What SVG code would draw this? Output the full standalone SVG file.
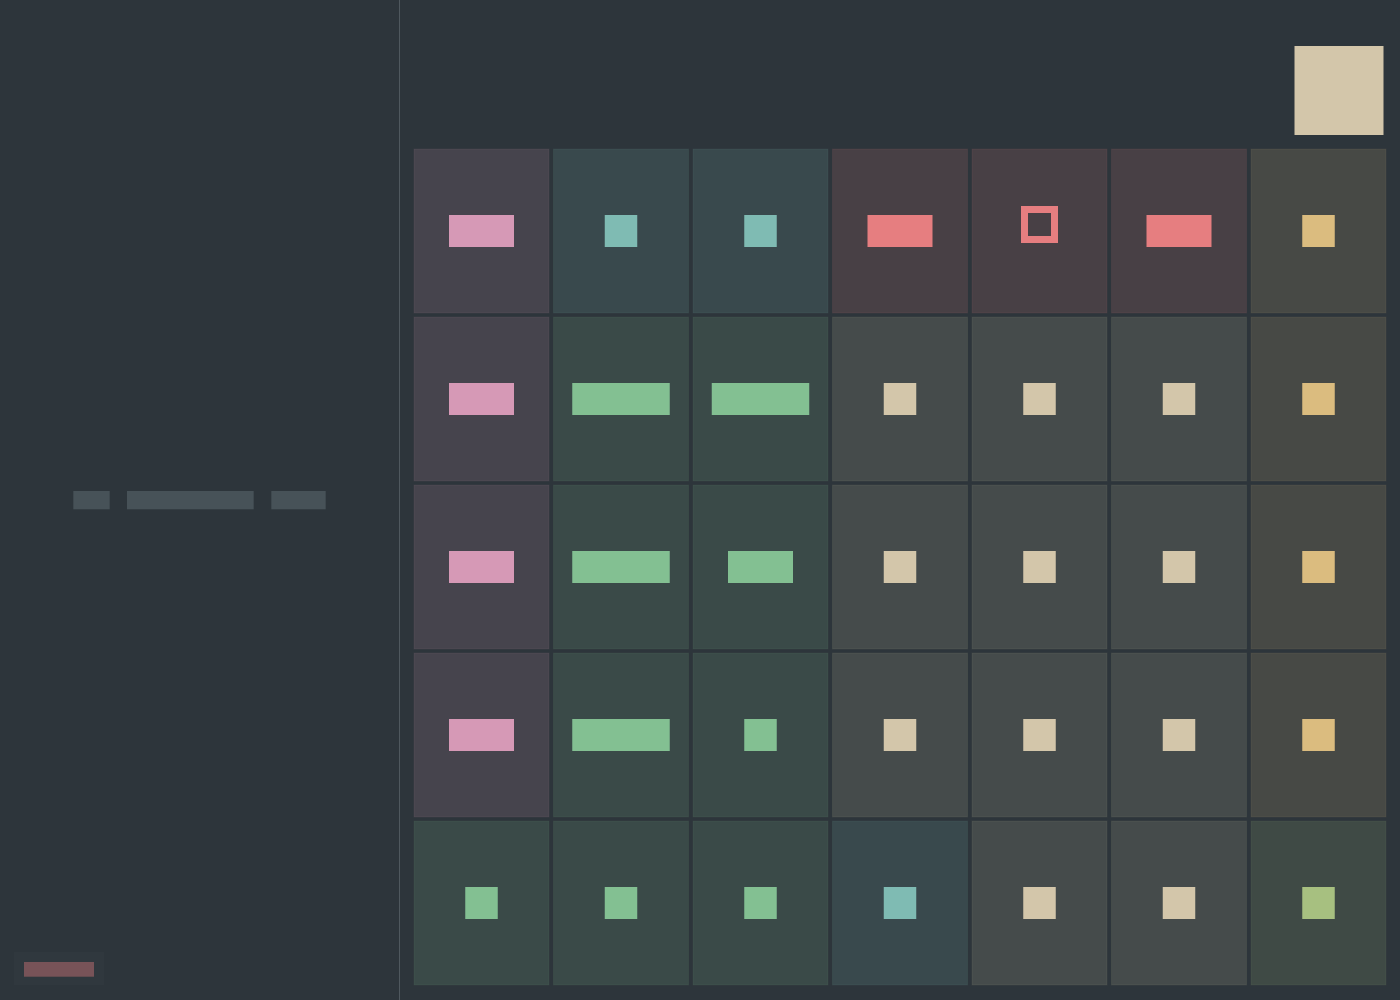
<svg xmlns="http://www.w3.org/2000/svg" width="1400" height="1000" viewBox="0 0 1400 1000">
<style>
.cell{stroke-width:1;stroke-opacity:0.08}
.c-pu{fill:#d699b6;fill-opacity:0.15;stroke:#d699b6}
.c-bl{fill:#7fbbb3;fill-opacity:0.15;stroke:#7fbbb3}
.c-aq{fill:#83c092;fill-opacity:0.15;stroke:#83c092}
.c-rd{fill:#e67e80;fill-opacity:0.15;stroke:#e67e80}
.c-fg{fill:#d3c6aa;fill-opacity:0.15;stroke:#d3c6aa}
.c-ye{fill:#dbbc7f;fill-opacity:0.15;stroke:#dbbc7f}
.c-gr{fill:#a7c080;fill-opacity:0.15;stroke:#a7c080}
.g-pu{fill:#d699b6}.g-bl{fill:#7fbbb3}.g-aq{fill:#83c092}.g-rd{fill:#e67e80}
.g-fg{fill:#d3c6aa}.g-ye{fill:#dbbc7f}.g-gr{fill:#a7c080}
.side{fill:#475258}
</style>
<rect x="0" y="0" width="1400" height="1000" fill="#2d353b"/>
<line x1="399.5" y1="0" x2="399.5" y2="1000" stroke="#4f585e" stroke-width="1"/>
<g id="sidebar">
  <rect class="side" x="73.3" y="491" width="36.4" height="18.3"/>
  <rect class="side" x="127" y="491" width="126.7" height="18.3"/>
  <rect class="side" x="271.3" y="491" width="54.4" height="18.3"/>
</g>
<g id="badge">
  <rect x="14" y="952" width="90" height="33" fill="#ffffff" fill-opacity="0.015"/>
  <rect x="24" y="962" width="70" height="14.7" fill="#e67e80" fill-opacity="0.4"/>
</g>
<rect id="swatch" x="1294.5" y="46" width="89" height="89" fill="#d3c6aa"/>
<g id="grid">
  <!-- row 1 -->
  <g id="r1c1"><rect class="cell c-pu" x="414" y="149" width="135" height="164"/><rect class="g-pu" x="449" y="215" width="65" height="32"/></g>
  <g id="r1c2"><rect class="cell c-bl" x="553.5" y="149" width="135" height="164"/><rect class="g-bl" x="604.75" y="215" width="32.5" height="32"/></g>
  <g id="r1c3"><rect class="cell c-bl" x="693" y="149" width="135" height="164"/><rect class="g-bl" x="744.25" y="215" width="32.5" height="32"/></g>
  <g id="r1c4"><rect class="cell c-rd" x="832.5" y="149" width="135" height="164"/><rect class="g-rd" x="867.5" y="215" width="65" height="32"/></g>
  <g id="r1c5"><rect class="cell c-rd" x="972" y="149" width="135" height="164"/><rect x="1024.5" y="209.5" width="30" height="30" fill="none" stroke="#e67e80" stroke-width="7"/></g>
  <g id="r1c6"><rect class="cell c-rd" x="1111.5" y="149" width="135" height="164"/><rect class="g-rd" x="1146.5" y="215" width="65" height="32"/></g>
  <g id="r1c7"><rect class="cell c-ye" x="1251" y="149" width="135" height="164"/><rect class="g-ye" x="1302.25" y="215" width="32.5" height="32"/></g>
  <!-- row 2 -->
  <g id="r2c1"><rect class="cell c-pu" x="414" y="317" width="135" height="164"/><rect class="g-pu" x="449" y="383" width="65" height="32"/></g>
  <g id="r2c2"><rect class="cell c-aq" x="553.5" y="317" width="135" height="164"/><rect class="g-aq" x="572.25" y="383" width="97.5" height="32"/></g>
  <g id="r2c3"><rect class="cell c-aq" x="693" y="317" width="135" height="164"/><rect class="g-aq" x="711.75" y="383" width="97.5" height="32"/></g>
  <g id="r2c4"><rect class="cell c-fg" x="832.5" y="317" width="135" height="164"/><rect class="g-fg" x="883.75" y="383" width="32.5" height="32"/></g>
  <g id="r2c5"><rect class="cell c-fg" x="972" y="317" width="135" height="164"/><rect class="g-fg" x="1023.25" y="383" width="32.5" height="32"/></g>
  <g id="r2c6"><rect class="cell c-fg" x="1111.5" y="317" width="135" height="164"/><rect class="g-fg" x="1162.75" y="383" width="32.5" height="32"/></g>
  <g id="r2c7"><rect class="cell c-ye" x="1251" y="317" width="135" height="164"/><rect class="g-ye" x="1302.25" y="383" width="32.5" height="32"/></g>
  <!-- row 3 -->
  <g id="r3c1"><rect class="cell c-pu" x="414" y="485" width="135" height="164"/><rect class="g-pu" x="449" y="551" width="65" height="32"/></g>
  <g id="r3c2"><rect class="cell c-aq" x="553.5" y="485" width="135" height="164"/><rect class="g-aq" x="572.25" y="551" width="97.5" height="32"/></g>
  <g id="r3c3"><rect class="cell c-aq" x="693" y="485" width="135" height="164"/><rect class="g-aq" x="728" y="551" width="65" height="32"/></g>
  <g id="r3c4"><rect class="cell c-fg" x="832.5" y="485" width="135" height="164"/><rect class="g-fg" x="883.75" y="551" width="32.5" height="32"/></g>
  <g id="r3c5"><rect class="cell c-fg" x="972" y="485" width="135" height="164"/><rect class="g-fg" x="1023.25" y="551" width="32.5" height="32"/></g>
  <g id="r3c6"><rect class="cell c-fg" x="1111.5" y="485" width="135" height="164"/><rect class="g-fg" x="1162.75" y="551" width="32.5" height="32"/></g>
  <g id="r3c7"><rect class="cell c-ye" x="1251" y="485" width="135" height="164"/><rect class="g-ye" x="1302.25" y="551" width="32.5" height="32"/></g>
  <!-- row 4 -->
  <g id="r4c1"><rect class="cell c-pu" x="414" y="653" width="135" height="164"/><rect class="g-pu" x="449" y="719" width="65" height="32"/></g>
  <g id="r4c2"><rect class="cell c-aq" x="553.5" y="653" width="135" height="164"/><rect class="g-aq" x="572.25" y="719" width="97.5" height="32"/></g>
  <g id="r4c3"><rect class="cell c-aq" x="693" y="653" width="135" height="164"/><rect class="g-aq" x="744.25" y="719" width="32.5" height="32"/></g>
  <g id="r4c4"><rect class="cell c-fg" x="832.5" y="653" width="135" height="164"/><rect class="g-fg" x="883.75" y="719" width="32.5" height="32"/></g>
  <g id="r4c5"><rect class="cell c-fg" x="972" y="653" width="135" height="164"/><rect class="g-fg" x="1023.25" y="719" width="32.5" height="32"/></g>
  <g id="r4c6"><rect class="cell c-fg" x="1111.5" y="653" width="135" height="164"/><rect class="g-fg" x="1162.75" y="719" width="32.5" height="32"/></g>
  <g id="r4c7"><rect class="cell c-ye" x="1251" y="653" width="135" height="164"/><rect class="g-ye" x="1302.25" y="719" width="32.5" height="32"/></g>
  <!-- row 5 -->
  <g id="r5c1"><rect class="cell c-aq" x="414" y="821" width="135" height="164"/><rect class="g-aq" x="465.25" y="887" width="32.5" height="32"/></g>
  <g id="r5c2"><rect class="cell c-aq" x="553.5" y="821" width="135" height="164"/><rect class="g-aq" x="604.75" y="887" width="32.5" height="32"/></g>
  <g id="r5c3"><rect class="cell c-aq" x="693" y="821" width="135" height="164"/><rect class="g-aq" x="744.25" y="887" width="32.5" height="32"/></g>
  <g id="r5c4"><rect class="cell c-bl" x="832.5" y="821" width="135" height="164"/><rect class="g-bl" x="883.75" y="887" width="32.5" height="32"/></g>
  <g id="r5c5"><rect class="cell c-fg" x="972" y="821" width="135" height="164"/><rect class="g-fg" x="1023.25" y="887" width="32.5" height="32"/></g>
  <g id="r5c6"><rect class="cell c-fg" x="1111.5" y="821" width="135" height="164"/><rect class="g-fg" x="1162.75" y="887" width="32.5" height="32"/></g>
  <g id="r5c7"><rect class="cell c-gr" x="1251" y="821" width="135" height="164"/><rect class="g-gr" x="1302.25" y="887" width="32.5" height="32"/></g>
</g>
<g id="connectors"/>
</svg>
